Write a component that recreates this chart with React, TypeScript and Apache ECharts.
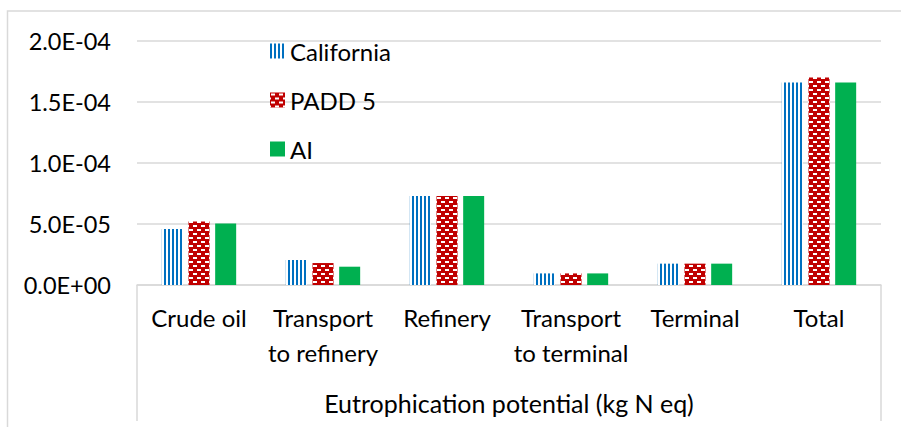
import React, { useEffect, useRef } from "react";
import * as echarts from "echarts";

const categories = ["Crude oil", "Transport\nto refinery", "Refinery", "Transport\nto terminal", "Terminal", "Total"];
const seriesNames = ["California", "PADD 5", "AI"];
const california = [4.6e-5, 2.05e-5, 7.3e-5, 9.5e-6, 1.75e-5, 1.66e-4];
const padd5 = [5.2e-5, 1.8e-5, 7.3e-5, 9.5e-6, 1.75e-5, 1.7e-4];
const ai = [5.05e-5, 1.5e-5, 7.3e-5, 9.5e-6, 1.75e-5, 1.66e-4];
const groupLabel = "Eutrophication potential (kg N eq)";
const yMin = 0;
const yMax = 2e-4;
const yInterval = 5e-5;

const FONT = "Lato, 'Open Sans', sans-serif";

function fmt(v: number): string {
  const s = v.toExponential(1).toUpperCase();
  const m = s.match(/^(-?[\d.]+)E([+-])(\d+)$/);
  if (!m) return s;
  return `${m[1]}E${m[2]}${m[3].padStart(2, "0")}`;
}

function stripeCanvas() {
  const c = document.createElement("canvas");
  c.width = 4;
  c.height = 4;
  const g = c.getContext("2d")!;
  g.fillStyle = "#ffffff";
  g.fillRect(0, 0, 4, 4);
  g.fillStyle = "#0070C0";
  g.fillRect(0, 0, 2, 4);
  return c;
}

function brickCanvas() {
  const c = document.createElement("canvas");
  c.width = 8;
  c.height = 8;
  const g = c.getContext("2d")!;
  g.fillStyle = "#C00000";
  g.fillRect(0, 0, 8, 8);
  g.fillStyle = "#ffffff";
  g.fillRect(1, 1, 4, 2);
  g.fillRect(5, 5, 3, 2);
  g.fillRect(0, 5, 1, 2);
  return c;
}

export default function App() {
  const ref = useRef<HTMLDivElement>(null);
  useEffect(() => {
    if (!ref.current) return;
    const chart = echarts.init(ref.current, null, { renderer: "svg" });
    const stripe = { image: stripeCanvas(), repeat: "repeat", imageWidth: 4, imageHeight: 4 } as any;
    const brick = { image: brickCanvas(), repeat: "repeat", imageWidth: 8, imageHeight: 8 } as any;
    const gridLeft = 137;
    const gridRight = 881;
    const gridTop = 41;
    const axisY = 285;
    chart.setOption({
      animation: false,
      backgroundColor: "#ffffff",
      textStyle: { fontFamily: FONT },
      grid: { left: gridLeft, right: 901 - gridRight, top: gridTop, bottom: 427 - axisY, containLabel: false },
      legend: {
        orient: "vertical",
        left: 270,
        top: 39,
        padding: 0,
        itemWidth: 15,
        itemHeight: 15,
        itemGap: 25,
        icon: "rect",
        data: seriesNames,
        textStyle: { fontFamily: FONT, fontSize: 24, color: "#000" },
      },
      xAxis: {
        type: "category",
        data: categories,
        axisLine: { lineStyle: { color: "#d9d9d9", width: 1.5 } },
        axisTick: { show: false },
        axisLabel: {
          interval: 0,
          margin: 15,
          fontFamily: FONT,
          fontSize: 24,
          lineHeight: 35,
          color: "#000",
        },
      },
      yAxis: {
        type: "value",
        min: yMin,
        max: yMax,
        interval: yInterval,
        axisLine: { show: false },
        axisTick: { show: false },
        splitLine: { lineStyle: { color: "#d9d9d9", width: 1.5 } },
        axisLabel: {
          margin: 26,
          fontFamily: FONT,
          fontSize: 23.5,
          color: "#000",
          formatter: (v: number) => fmt(v),
        },
      },
      series: [
        {
          name: seriesNames[0],
          type: "bar",
          data: california,
          barWidth: 21,
          barGap: "27%",
          itemStyle: { color: stripe },
        },
        {
          name: seriesNames[1],
          type: "bar",
          data: padd5,
          barWidth: 21,
          barGap: "27%",
          itemStyle: { color: brick },
        },
        {
          name: seriesNames[2],
          type: "bar",
          data: ai,
          barWidth: 21,
          barGap: "27%",
          itemStyle: { color: "#00B050" },
        },
      ],
      graphic: [
        {
          type: "rect",
          shape: { x: 7.5, y: 11, width: 910, height: 440 },
          style: { fill: "none", stroke: "#d9d9d9", lineWidth: 1.5 },
          silent: true,
        },
        {
          type: "line",
          shape: { x1: gridLeft, y1: axisY, x2: gridLeft, y2: 421 },
          style: { stroke: "#d9d9d9", lineWidth: 1.5 },
          silent: true,
        },
        {
          type: "line",
          shape: { x1: gridRight, y1: axisY, x2: gridRight, y2: 421 },
          style: { stroke: "#d9d9d9", lineWidth: 1.5 },
          silent: true,
        },
        {
          type: "text",
          x: (gridLeft + gridRight) / 2,
          y: 403,
          style: {
            text: groupLabel,
            fontFamily: FONT,
            fontSize: 25,
            fill: "#000",
            align: "center",
            verticalAlign: "middle",
          },
          silent: true,
        },
      ],
    });
    return () => chart.dispose();
  }, []);
  return (
    <div
      ref={ref}
      style={{ position: "fixed", left: 0, top: 0, width: 901, height: 427, background: "#fff" }}
    />
  );
}
